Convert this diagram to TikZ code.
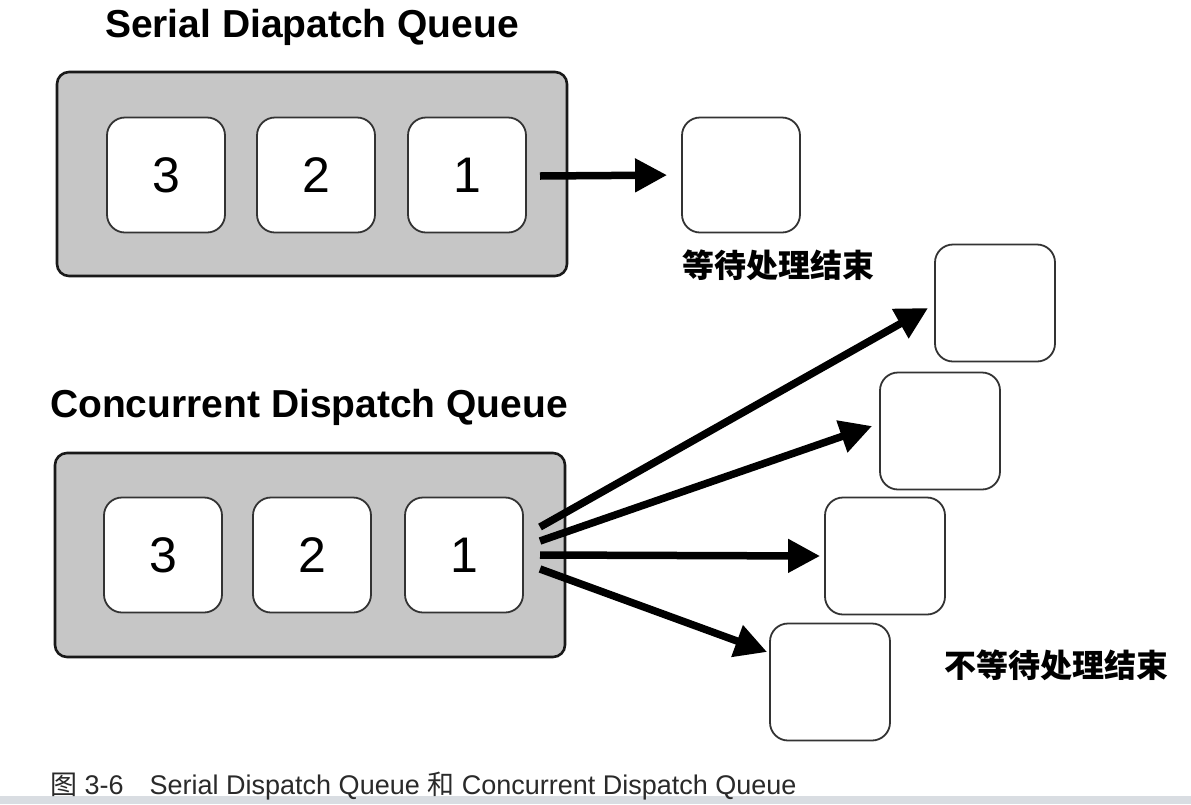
\documentclass[tikz,border=0pt]{standalone}
\usepackage{fontspec}
\setmainfont{Liberation Sans}
\newfontfamily\cjk{Noto Sans CJK SC}
\usetikzlibrary{arrows.meta,calc}
\definecolor{qgray}{HTML}{C6C6C6}
\definecolor{barcol}{HTML}{D9DDE2}
\definecolor{capcol}{HTML}{2A2A2A}
\begin{document}
\begin{tikzpicture}[x=1pt,y=-1pt,
  queue/.style={draw=black!90, line width=2.6pt, fill=qgray, rounded corners=12pt,
    minimum width=510pt, minimum height=204pt, inner sep=0pt},
  item/.style={draw=black!80, line width=1.8pt, fill=white, rounded corners=18pt,
    minimum width=118pt, minimum height=115pt, inner sep=0pt,
    font=\fontsize{50}{50}\selectfont},
  title/.style={font=\bfseries\fontsize{39}{39}\selectfont},
  cjklabel/.style={font=\cjk\bfseries\fontsize{32}{32}\selectfont},
  flow/.style={line width=7.5pt, -{Triangle[length=32pt,width=32pt]}}
]
\fill[white] (0,0) rectangle (1191,804);
\useasboundingbox (0,0) rectangle (1191,804);
\fill[barcol] (0,796) rectangle (1191,804);

% Serial
\node[title] (st) at (312,27) {Serial Diapatch Queue};
\node[queue] (sq) at (312,174) {};
\node[item] (s3) at (166,175) {3};
\node[item] (s2) at (316,175) {2};
\node[item] (s1) at (467,175) {1};
\node[item] (sd) at (741,175) {};
\coordinate (ss) at (540,176);
\draw[flow, shorten >=14pt] (ss) -- (sd.west);
\node[cjklabel] (sl) at (778,265) {等待处理结束};

% Concurrent
\node[title] (ct) at (309,407) {Concurrent Dispatch Queue};
\node[queue] (cq) at (310,555) {};
\node[item] (c3) at (163,555) {3};
\node[item] (c2) at (312,555) {2};
\node[item] (c1) at (464,555) {1};

\node[item, minimum width=120pt, minimum height=117pt] (d1) at (995,303) {};
\node[item, minimum width=120pt, minimum height=117pt] (d2) at (940,431) {};
\node[item, minimum width=120pt, minimum height=117pt] (d3) at (885,556) {};
\node[item, minimum width=120pt, minimum height=117pt] (d4) at (830,682) {};

\coordinate (cs1) at (540,527);
\coordinate (cs2) at (540,541);
\coordinate (cs3) at (540,555);
\coordinate (cs4) at (540,569);
\coordinate (ce1) at ($(d1.west)+(-6,5)$);
\coordinate (ce2) at ($(d2.west)+(-7,-5)$);
\coordinate (ce3) at ($(d3.west)+(-4,0)$);
\coordinate (ce4) at ($(d4.west)+(-2,-30)$);
\draw[flow] (cs1) -- (ce1);
\draw[flow] (cs2) -- (ce2);
\draw[flow] (cs3) -- (ce3);
\draw[flow] (cs4) -- (ce4);
\node[cjklabel] (cl) at (1056,665) {不等待处理结束};

% Caption
\node[anchor=west, text=capcol, font=\fontsize{27}{27}\selectfont, inner sep=0pt] (cap) at (50,786)
  {{\cjk 图}~3-6\hspace{26pt}Serial Dispatch Queue {\cjk 和} Concurrent Dispatch Queue};
\end{tikzpicture}
\end{document}
